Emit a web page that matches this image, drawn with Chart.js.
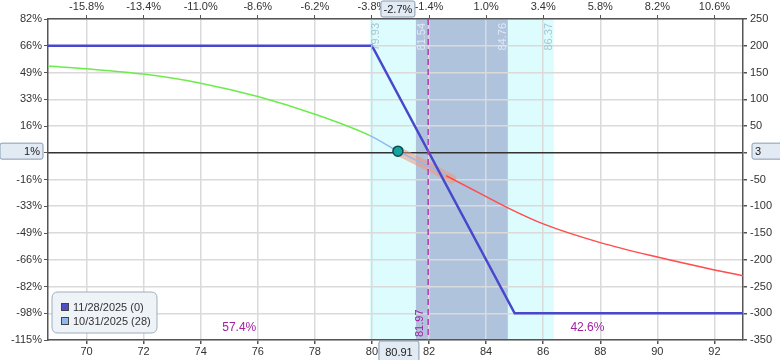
<!DOCTYPE html>
<html>
<head>
<meta charset="utf-8">
<script src="https://cdn.jsdelivr.net/npm/chart.js@4.4.1/dist/chart.umd.min.js"></script>
<style>
  body { margin: 0; background: #fff; }
  #plChart { display: block; }
</style>
</head>
<body>
<canvas id="plChart" width="780" height="360"></canvas>
<script>
// T+28 curve (10/31/2025)
var prices = [68.65, 70, 72, 74, 76, 78, 79.93, 80.91, 82, 82.6, 84, 84.76, 86, 88, 90, 92, 93];
var t28PL = [162, 157, 147, 130, 105, 72, 32, 3, -26, -43, -82, -103, -133, -168, -195, -219, -230];
// expiration (11/28/2025)
var expiryPrices = [68.65, 80, 85, 93];
var expiryPL = [200, 200, -300, -300];
// expected move highlight
var movePrices = [80.91, 82, 82.8];
var movePL = [3, -26, -49];

var topTickLabels = ["-15.8%", "-13.4%", "-11.0%", "-8.6%", "-6.2%", "-3.8%", "-1.4%", "1.0%", "3.4%", "5.8%", "8.2%", "10.6%"];
var leftTickLabels = ["-115%", "-98%", "-82%", "-66%", "-49%", "-33%", "-16%", "1%", "16%", "33%", "49%", "66%", "82%"];

var sd2Range = [79.93, 86.37];
var sd1Range = [81.54, 84.76];
var breakEven = 81.97;
var currentPrice = 80.91;
var currentPL = 3;
var currentPct = "1%";
var currentMove = "-2.7%";
var probBelow = "57.4%";
var probAbove = "42.6%";
var greenUntil = 79.93;
var redFrom = 82.6;

var FONT = "'Liberation Sans', Arial, sans-serif";

function pts(xs, ys) {
    return xs.map(function (x, i) { return { x: x, y: ys[i] }; });
}

function roundRect(ctx, x, y, w, h, r) {
    ctx.beginPath();
    ctx.moveTo(x + r, y);
    ctx.lineTo(x + w - r, y);
    ctx.quadraticCurveTo(x + w, y, x + w, y + r);
    ctx.lineTo(x + w, y + h - r);
    ctx.quadraticCurveTo(x + w, y + h, x + w - r, y + h);
    ctx.lineTo(x + r, y + h);
    ctx.quadraticCurveTo(x, y + h, x, y + h - r);
    ctx.lineTo(x, y + r);
    ctx.quadraticCurveTo(x, y, x + r, y);
    ctx.closePath();
}

function box(ctx, x, y, w, h, text, align) {
    roundRect(ctx, x, y, w, h, 2);
    ctx.fillStyle = "#e2eaf3";
    ctx.fill();
    ctx.strokeStyle = "#8a9bb0";
    ctx.lineWidth = 1;
    ctx.stroke();
    ctx.fillStyle = "#222";
    ctx.font = "11px " + FONT;
    ctx.textBaseline = "middle";
    ctx.textAlign = align;
    var tx = align === "right" ? x + w - 3 : (align === "left" ? x + 3 : x + w / 2);
    ctx.fillText(text, tx, y + h / 2 + 1);
}

function vText(ctx, text, x, y, align, color, size) {
    ctx.save();
    ctx.translate(x, y);
    ctx.rotate(-Math.PI / 2);
    ctx.font = size + "px " + FONT;
    ctx.fillStyle = color;
    ctx.textAlign = align;
    ctx.textBaseline = "middle";
    ctx.fillText(text, 0, 0);
    ctx.restore();
}

var bandsPlugin = {
    id: "bands",
    beforeDraw: function (chart) {
        var ctx = chart.ctx, a = chart.chartArea, xs = chart.scales.x;
        ctx.save();
        ctx.fillStyle = "#ddfcfd";
        var l = xs.getPixelForValue(sd2Range[0]), r = xs.getPixelForValue(sd2Range[1]);
        ctx.fillRect(l, a.top, r - l, a.bottom - a.top);
        ctx.fillStyle = "#b0c3dc";
        l = xs.getPixelForValue(sd1Range[0]); r = xs.getPixelForValue(sd1Range[1]);
        ctx.fillRect(l, a.top, r - l, a.bottom - a.top);
        ctx.restore();
    },
    afterDatasetsDraw: function (chart) {
        var ctx = chart.ctx, a = chart.chartArea, xs = chart.scales.x, ys = chart.scales.y;
        ctx.save();
        // break-even dashed line
        var bx = xs.getPixelForValue(breakEven);
        ctx.strokeStyle = "#b23cb2";
        ctx.lineWidth = 1.5;
        ctx.setLineDash([6, 4]);
        ctx.beginPath();
        ctx.moveTo(bx, a.top);
        ctx.lineTo(bx, a.bottom);
        ctx.stroke();
        ctx.setLineDash([]);
        vText(ctx, breakEven.toFixed(2), bx - 8, a.bottom - 3, "left", "#a020a0", 11);

        // band edge labels
        vText(ctx, sd2Range[0].toFixed(2), xs.getPixelForValue(sd2Range[0]) + 6, a.top + 4, "right", "#a4c6d6", 11);
        vText(ctx, sd1Range[0].toFixed(2), xs.getPixelForValue(sd1Range[0]) + 6, a.top + 4, "right", "#e0e9f4", 11);
        vText(ctx, sd1Range[1].toFixed(2), xs.getPixelForValue(sd1Range[1]) - 5, a.top + 4, "right", "#e0e9f4", 11);
        vText(ctx, sd2Range[1].toFixed(2), xs.getPixelForValue(sd2Range[1]) - 5, a.top + 4, "right", "#a4c6d6", 11);

        // probabilities
        ctx.font = "12px " + FONT;
        ctx.fillStyle = "#a020a0";
        ctx.textAlign = "center";
        ctx.textBaseline = "middle";
        ctx.fillText(probBelow, xs.getPixelForValue(75.35), a.bottom - 12);
        ctx.fillText(probAbove, xs.getPixelForValue(87.55), a.bottom - 12);

        // legend
        roundRect(ctx, 52, 292, 105, 41, 6);
        ctx.fillStyle = "#eef3f8";
        ctx.fill();
        ctx.strokeStyle = "#9eadbe";
        ctx.lineWidth = 1;
        ctx.stroke();
        var legendColors = ["#5050c4", "#8fb8ee"];
        chart.data.datasets.slice(1, 3).forEach(function (ds, i) {
            var y = 307 + i * 14;
            ctx.fillStyle = legendColors[i];
            ctx.fillRect(61, y - 4, 8, 8);
            ctx.strokeStyle = "#444";
            ctx.strokeRect(61.5, y - 3.5, 7, 7);
            ctx.fillStyle = "#333";
            ctx.font = "11px " + FONT;
            ctx.textAlign = "left";
            ctx.fillText(ds.label, 73, y + 1);
        });

        // current value boxes
        var cy = ys.getPixelForValue(currentPL);
        var cx = xs.getPixelForValue(currentPrice);
        box(ctx, 0, cy - 8, 43, 16, currentPct, "right");
        box(ctx, 752, cy - 8, 40, 16, String(currentPL), "left");
        box(ctx, cx - 17, 1, 34, 16, currentMove, "center");
        box(ctx, cx - 19, a.bottom + 1, 40, 22, currentPrice.toFixed(2), "center");
        ctx.restore();
    }
};

var ctx = document.getElementById("plChart").getContext("2d");
new Chart(ctx, {
    type: "line",
    data: {
        datasets: [{
            label: "now",
            data: pts([currentPrice], [currentPL]),
            showLine: false,
            pointRadius: 5,
            pointBackgroundColor: "#17a3a0",
            pointBorderColor: "#0b4d4d",
            pointBorderWidth: 1.5,
            order: 0
        }, {
            label: "11/28/2025 (0)",
            data: pts(expiryPrices, expiryPL),
            borderColor: "#4848cc",
            borderWidth: 2.5,
            pointRadius: 0,
            tension: 0,
            order: 1
        }, {
            label: "10/31/2025 (28)",
            data: pts(prices, t28PL),
            borderColor: "#8fb8f8",
            borderWidth: 1.5,
            pointRadius: 0,
            cubicInterpolationMode: "monotone",
            segment: {
                borderColor: function (c) {
                    if (c.p1.parsed.x <= greenUntil) return "#6cec4c";
                    if (c.p0.parsed.x >= redFrom) return "#ff4d4d";
                    return "#8fb8f8";
                }
            },
            order: 2
        }, {
            label: "move",
            data: pts(movePrices, movePL),
            borderColor: "rgba(240,150,120,0.55)",
            borderWidth: 9,
            borderCapStyle: "round",
            pointRadius: 0,
            order: 3
        }]
    },
    options: {
        responsive: false,
        animation: false,
        events: [],
        layout: { padding: 0 },
        plugins: { legend: { display: false }, tooltip: { enabled: false } },
        scales: {
            x: {
                type: "linear",
                position: "bottom",
                min: 68.65,
                max: 93,
                afterFit: function (s) { s.height = 20; },
                border: { color: "#555", width: 1.5 },
                grid: { color: "#dadada", lineWidth: 1.5, tickLength: 4, tickColor: "#555" },
                ticks: { stepSize: 2, includeBounds: false, maxRotation: 0, padding: 1, color: "#333", font: { family: FONT, size: 11 } }
            },
            x2: {
                type: "linear",
                position: "top",
                min: 68.65,
                max: 93,
                afterFit: function (s) { s.height = 19; },
                border: { color: "#555", width: 1.5 },
                grid: { drawOnChartArea: false, tickLength: 4, tickColor: "#555" },
                ticks: {
                    stepSize: 2, includeBounds: false, maxRotation: 0, padding: 1, color: "#333",
                    font: { family: FONT, size: 11 },
                    callback: function (v) { return topTickLabels[Math.round((v - 70) / 2)]; }
                }
            },
            y: {
                position: "right",
                min: -350,
                max: 250,
                afterFit: function (s) { s.width = 37; },
                border: { color: "#555", width: 1.5 },
                grid: {
                    color: function (c) { return c.tick && c.tick.value === 0 ? "#333" : "#dadada"; },
                    lineWidth: 1.5, tickLength: 4, tickColor: "#555"
                },
                ticks: {
                    stepSize: 50, includeBounds: false, padding: 3, color: "#333",
                    font: { family: FONT, size: 11 },
                    callback: function (v) { return v === 0 ? "" : v; }
                }
            },
            y2: {
                position: "left",
                min: -350,
                max: 250,
                afterFit: function (s) { s.width = 48; },
                border: { color: "#555", width: 1.5 },
                grid: { drawOnChartArea: false, tickLength: 4, tickColor: "#555" },
                ticks: {
                    stepSize: 50, includeBounds: false, padding: 2, color: "#333",
                    font: { family: FONT, size: 11 },
                    callback: function (v) { return v === 0 ? "" : leftTickLabels[Math.round((v + 350) / 50)]; }
                }
            }
        }
    },
    plugins: [bandsPlugin]
});
</script>
</body>
</html>
